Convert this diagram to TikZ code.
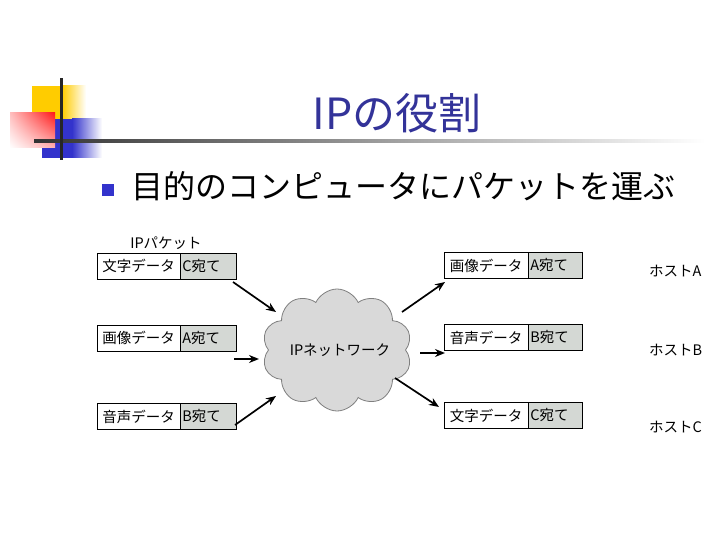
\documentclass[tikz,border=0pt]{standalone}
\usepackage{fontspec}
\setmainfont{Noto Sans CJK JP}
\usetikzlibrary{shapes.symbols,arrows.meta,shadings}
\definecolor{titleblue}{HTML}{333399}
\definecolor{bulletblue}{HTML}{3333CC}
\definecolor{logoyellow}{HTML}{FFCC00}
\definecolor{logoblue}{HTML}{3333CC}
\definecolor{addrgray}{HTML}{D4D8D4}
\definecolor{cloudgray}{HTML}{D9D9D9}
\definecolor{cloudedge}{HTML}{7F7F7F}
\tikzset{
  small/.style={font=\fontsize{14.5}{16}\selectfont},
  datapart/.style={draw=black, line width=0.8pt, fill=white, minimum width=83pt, minimum height=26pt, inner sep=0pt, small},
  addrpart/.style={draw=black, line width=0.8pt, fill=addrgray, minimum width=56pt, minimum height=26pt, inner xsep=2pt, inner ysep=0pt, small},
  arr/.style={line width=1.7pt, -{Stealth[length=10pt,width=8pt]}},
  hostlbl/.style={small, anchor=west, inner sep=0pt},
}
\begin{document}
\begin{tikzpicture}[x=1pt,y=-1pt]
\useasboundingbox (0,0) rectangle (720,540);
\fill[white] (0,0) rectangle (720,540);
% logo
\fill[logoyellow] (32,86) rectangle (62,131);
\shade[left color=logoyellow, right color=white] (62,86) rectangle (86,131);
\fill[logoblue] (42,119) rectangle (72,158);
\shade[left color=logoblue, right color=white] (72,119) rectangle (102,158);
\shade[upper right=red!90, upper left=red!25, lower right=red!30, lower left=white] (10,113) rectangle (55,148);
\shade[left color=black!80, right color=white] (34,139.5) rectangle (705,142.5);
\fill[black!85] (59.5,78) rectangle (62.5,160);
% title
\node[text=titleblue, font=\fontsize{43}{46}\selectfont, inner sep=0pt] (title) at (397,113) {IPの役割};
% bullet
\node[fill=bulletblue, minimum width=12pt, minimum height=12pt, inner sep=0pt] (bullet) at (108,190) {};
\node[anchor=west, font=\fontsize{32}{34}\selectfont, inner sep=0pt] (point) at (131,186) {目的のコンピュータにパケットを運ぶ};
% label
\node[small, inner sep=0pt] (iplbl) at (166,243) {IPパケット};
% left packets
\node[datapart] (l1d) at (138.5,266) {文字データ};
\node[addrpart, anchor=west] (l1a) at (180,266) {\makebox[52pt][l]{C宛て}};
\node[datapart] (l2d) at (138.5,338) {画像データ};
\node[addrpart, anchor=west] (l2a) at (180,338) {\makebox[52pt][l]{A宛て}};
\node[datapart] (l3d) at (138.5,416.5) {音声データ};
\node[addrpart, anchor=west] (l3a) at (180,416.5) {\makebox[52pt][l]{B宛て}};
% right packets
\node[datapart, minimum width=84pt] (r1d) at (486,265.5) {画像データ};
\node[addrpart, minimum width=54pt, anchor=west] (r1a) at (528,265.5) {\makebox[50pt][l]{A宛て}};
\node[datapart, minimum width=84pt] (r2d) at (486,337.5) {音声データ};
\node[addrpart, minimum width=54pt, anchor=west] (r2a) at (528,337.5) {\makebox[50pt][l]{B宛て}};
\node[datapart, minimum width=84pt] (r3d) at (486,415.5) {文字データ};
\node[addrpart, minimum width=54pt, anchor=west] (r3a) at (528,415.5) {\makebox[50pt][l]{C宛て}};
% hosts
\node[hostlbl] (hA) at (649,271) {ホストA};
\node[hostlbl] (hB) at (649,350) {ホストB};
\node[hostlbl] (hC) at (649,427) {ホストC};
% cloud
\node[cloud, cloud puffs=10, cloud puff arc=130, aspect=1.25, draw=cloudedge, line width=0.8pt, fill=cloudgray, minimum width=150pt, minimum height=122pt, inner sep=0pt] (net) at (337,350) {};
\node[small, inner sep=0pt] (netlbl) at (340,350) {IPネットワーク};
% arrows
\coordinate (i1s) at (233,282); \coordinate (i1e) at (276,312);
\coordinate (i2s) at (234,359); \coordinate (i2e) at (259,359);
\coordinate (i3s) at (235,425); \coordinate (i3e) at (276,396);
\coordinate (o1s) at (402,312); \coordinate (o1e) at (445,282);
\coordinate (o2s) at (420,353); \coordinate (o2e) at (445,353);
\coordinate (o3s) at (395,378); \coordinate (o3e) at (439,407);
\draw[arr] (i1s) -- (i1e);
\draw[arr] (i2s) -- (i2e);
\draw[arr] (i3s) -- (i3e);
\draw[arr] (o1s) -- (o1e);
\draw[arr] (o2s) -- (o2e);
\draw[arr] (o3s) -- (o3e);
\end{tikzpicture}
\end{document}
